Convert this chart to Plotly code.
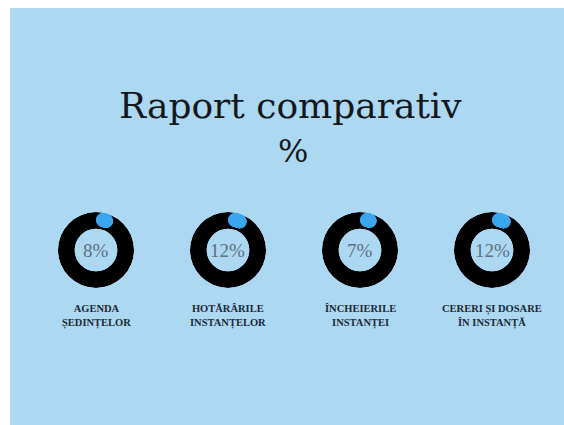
import numpy as np
import plotly.graph_objects as go

# ---- data ----
categories = ["AGENDA<br>ȘEDINȚELOR", "HOTĂRÂRILE<br>INSTANȚELOR",
              "ÎNCHEIERILE<br>INSTANȚEI", "CERERI ȘI DOSARE<br>ÎN INSTANȚĂ"]
values = [8, 12, 7, 12]
value_labels = ["8%", "12%", "7%", "12%"]
title_text = "Raport comparativ"
subtitle_text = "%"

W, H = 600, 425
OFF_X, OFF_Y = 8, 8          # page offset of the figure
centers_x = [96, 228, 360, 492]   # page coordinates
center_y = 250
R = 38
HOLE = 0.56
BG = "#acd8f1"
BLUE = "#3aa6f0"

fig = go.Figure()

def px_x(x):
    return (x - OFF_X) / W

def px_y(y):
    return 1 - (y - OFF_Y) / H

for i, (cat, v, lab, cx) in enumerate(zip(categories, values, value_labels, centers_x)):
    dom_x = [px_x(cx - R), px_x(cx + R)]
    dom_y = [px_y(center_y + R), px_y(center_y - R)]
    pname = "polar" if i == 0 else f"polar{i+1}"
    # black track ring
    fig.add_trace(go.Barpolar(r=[1], theta=[0], width=[360], base=0,
                              marker=dict(color="#000000", line=dict(width=0)),
                              hoverinfo="skip", showlegend=False, subplot=pname))
    # blue progress blob
    theta = np.linspace(13, 13 + v * 0.8, 12)
    r_blob = (0.81 - HOLE) / (1 - HOLE)
    fig.add_trace(go.Scatterpolar(r=[r_blob] * len(theta), theta=theta, mode="markers",
                                  marker=dict(size=14, color=BLUE, line=dict(width=0)),
                                  hoverinfo="skip", showlegend=False, subplot=pname))
    fig.update_layout(**{pname: dict(
        domain=dict(x=dom_x, y=dom_y),
        hole=HOLE,
        bgcolor="rgba(0,0,0,0)",
        radialaxis=dict(range=[0, 1], visible=False, showgrid=False),
        angularaxis=dict(visible=False, rotation=90, direction="clockwise", showgrid=False),
    )})
    # value inside ring
    fig.add_annotation(x=px_x(cx), y=px_y(center_y), xref="paper", yref="paper",
                       text=lab, showarrow=False, xanchor="center", yanchor="middle",
                       font=dict(family="Liberation Serif", size=19, color="#5f6f80"))
    # category label
    fig.add_annotation(x=px_x(cx), y=px_y(316), xref="paper", yref="paper",
                       text=f"<b>{cat}</b>", showarrow=False, xanchor="center",
                       yanchor="middle", align="center",
                       font=dict(family="Liberation Serif", size=10.5, color="#1c2936"))

fig.add_annotation(x=px_x(290), y=px_y(105), xref="paper", yref="paper",
                   text=title_text, showarrow=False, xanchor="center", yanchor="middle",
                   font=dict(family="DejaVu Serif", size=36, color="#14181d"))
fig.add_annotation(x=px_x(293), y=px_y(151), xref="paper", yref="paper",
                   text=subtitle_text, showarrow=False, xanchor="center", yanchor="middle",
                   font=dict(family="DejaVu Serif", size=32, color="#14181d"))

fig.add_shape(type="rect", xref="paper", yref="paper",
              x0=px_x(10), x1=1, y0=0, y1=1,
              fillcolor=BG, line=dict(width=0), layer="below")

fig.update_layout(width=W, height=H, margin=dict(l=0, r=0, t=0, b=0),
                  paper_bgcolor="#ffffff", plot_bgcolor="rgba(0,0,0,0)",
                  showlegend=False)

page_bg = (
    "document.documentElement.style.background="
    "'linear-gradient(#ffffff,#ffffff) top left/100% 8px no-repeat,"
    " linear-gradient(to right,#ffffff 10px," + BG + " 10px)';"
)

fig.write_html("out.html", config={"displayModeBar": False}, post_script=page_bg)
